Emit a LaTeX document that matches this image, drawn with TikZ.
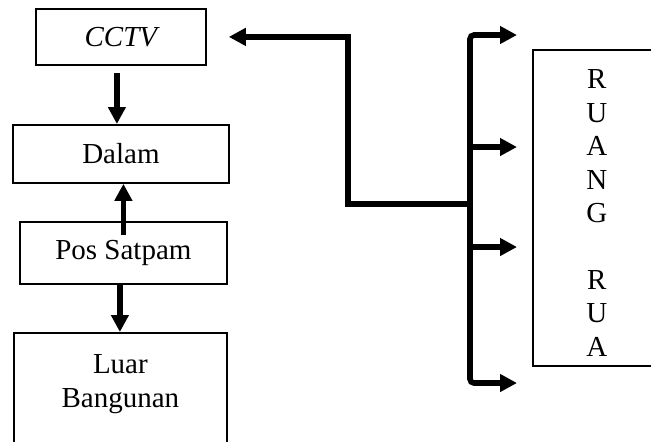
\documentclass[tikz,border=0pt]{standalone}
\usepackage{fontspec}
\setmainfont{Liberation Serif}
\usepackage{tikz}
\usetikzlibrary{arrows.meta,calc}

\tikzset{
  unitbox/.style={draw, line width=0.9pt, inner sep=0pt, anchor=north west,
    align=center, font=\fontsize{14.5}{16.7}\selectfont},
  flow/.style={line width=2.8pt, -{Triangle[length=8.5pt,width=8.5pt]}}
}

\begin{document}
\begin{tikzpicture}[x=0.5pt,y=-0.5pt]
  \useasboundingbox (0,0) rectangle (651,441);
  \fill[white] (0,0) rectangle (651,441);
  \clip (0,0) rectangle (651,441);

  % Left column: camera and the areas it covers
  \node[unitbox, minimum width=85pt, minimum height=28pt] (cctv) at (35,8) {\itshape CCTV};
  \node[unitbox, minimum width=108pt, minimum height=29pt] (dalam) at (12,124) {Dalam};
  \node[unitbox, minimum width=103.5pt, minimum height=31pt] (pos) at (19,221) {Pos Satpam};
  \node[unitbox, text width=106.5pt, inner ysep=11pt] (luar) at (13,332) {Luar\\Bangunan\\~};

  % Right: room box
  \node[unitbox, minimum width=64pt, minimum height=158pt] (ruang) at (532,49)
    {\rule{0pt}{14.5pt}R\\U\\A\\N\\G\\[16.7pt]R\\U\\A};

  % Vertical links
  \draw[flow, shorten <=3.5pt] ([xshift=-2pt]cctv.south) -- ([xshift=-2pt]cctv.south |- dalam.north);
  \draw[flow] ([yshift=-7pt]pos.north) -- (pos.north |- dalam.south);
  \draw[flow] ([xshift=-1.75pt]pos.south) -- ([xshift=-1.75pt]pos.south |- luar.north);

  % Bus feeding back to the camera
  \coordinate (hub) at (470,204);
  \coordinate (bend) at (348,204);
  \coordinate (busTop) at (470,35);
  \coordinate (busBot) at (470,383);
  \coordinate (tap1) at (470,147);
  \coordinate (tap2) at (470,247);

  \draw[flow, shorten >=11pt] (hub) -- (bend) |- (cctv.east);
  \draw[flow, {Triangle[length=8.5pt,width=8.5pt]}-{Triangle[length=8.5pt,width=8.5pt]},
    rounded corners=2pt, shorten <=7.5pt, shorten >=7.5pt]
    (ruang.west |- busTop) -- (busTop) -- (busBot) -- (ruang.west |- busBot);
  \draw[flow, shorten >=7.5pt] (tap1) -- (ruang.west |- tap1);
  \draw[flow, shorten >=7.5pt] (tap2) -- (ruang.west |- tap2);
\end{tikzpicture}
\end{document}
